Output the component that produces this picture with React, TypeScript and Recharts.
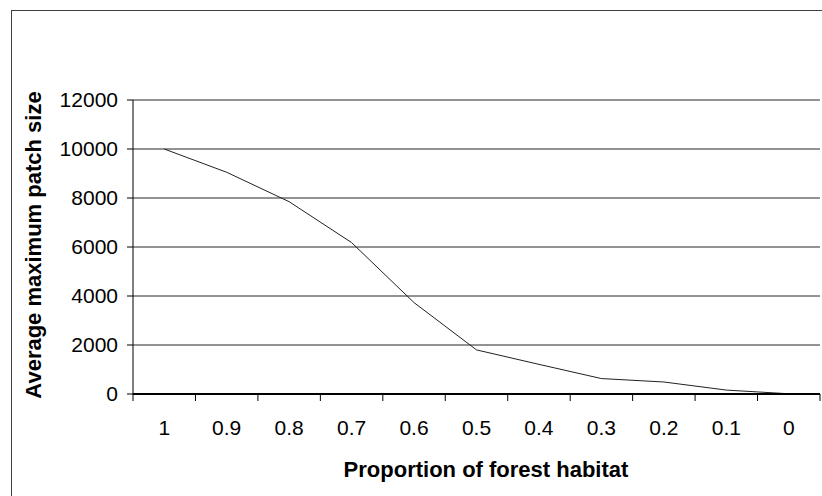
import { LineChart, Line, XAxis, YAxis, CartesianGrid } from "recharts";

const categories = ["1", "0.9", "0.8", "0.7", "0.6", "0.5", "0.4", "0.3", "0.2", "0.1", "0"];
const patchSize = [10000, 9050, 7850, 6180, 3730, 1800, 1210, 630, 490, 160, 10];
const yTicks = [0, 2000, 4000, 6000, 8000, 10000, 12000];

const FONT = "'Liberation Sans', Arial, sans-serif";
const PLOT_LEFT = 133;
const PLOT_RIGHT = 820;
const STEP = (PLOT_RIGHT - PLOT_LEFT) / categories.length;

const data = categories.map((p, i) => ({ p, size: patchSize[i] }));

// Excel style category axis: label in the middle, tick marks on the boundaries
function CategoryTick(props: any) {
  const { x, y, payload, index } = props;
  const last = index === categories.length - 1;
  return (
    <g>
      <line x1={x - STEP / 2} x2={x - STEP / 2} y1={y} y2={y + 7} stroke="#000" />
      {last && <line x1={x + STEP / 2} x2={x + STEP / 2} y1={y} y2={y + 7} stroke="#000" />}
      <text x={x} y={y + 41} textAnchor="middle" fontSize={21} fontFamily={FONT} fill="#000">
        {payload.value}
      </text>
    </g>
  );
}

export default function App() {
  return (
    <div style={{ position: "absolute", left: 0, top: 0, width: 822, height: 496, overflow: "hidden", background: "#fff" }}>
      <div
        style={{
          position: "absolute",
          left: 11,
          top: 10,
          width: 900,
          height: 600,
          border: "1px solid #404040",
        }}
      />
      <div style={{ position: "absolute", left: 0, top: 0 }}>
        <LineChart width={822} height={496} data={data} margin={{ top: 100, right: 2, bottom: 0, left: 0 }}>
          <CartesianGrid vertical={false} stroke="#000" strokeOpacity={0.85} />
          <XAxis
            dataKey="p"
            scale="band"
            height={102}
            tickSize={0}
            tickMargin={0}
            tickLine={false}
            interval={0}
            axisLine={{ stroke: "#000", strokeWidth: 2 }}
            tick={<CategoryTick />}
            label={{
              content: () => (
                <text x={486} y={477} textAnchor="middle" fontSize={22} fontWeight="bold" fontFamily={FONT} fill="#000">
                  Proportion of forest habitat
                </text>
              ),
            }}
          />
          <YAxis
            width={PLOT_LEFT}
            domain={[0, 12000]}
            ticks={yTicks}
            interval={0}
            tickSize={6}
            tickMargin={9}
            axisLine={{ stroke: "#000" }}
            tickLine={{ stroke: "#000" }}
            tick={{ fontSize: 21, fontFamily: FONT, fill: "#000" }}
            label={{
              content: () => (
                <text
                  x={41}
                  y={245}
                  transform="rotate(-90 41 245)"
                  textAnchor="middle"
                  fontSize={22}
                  fontWeight="bold"
                  fontFamily={FONT}
                  fill="#000"
                >
                  Average maximum patch size
                </text>
              ),
            }}
          />
          <YAxis yAxisId="frame" orientation="right" width={0} tick={false} tickLine={false} axisLine={{ stroke: "#808080", strokeWidth: 2 }} />
          <Line
            type="linear"
            dataKey="size"
            stroke="#222"
            strokeWidth={1}
            dot={false}
            isAnimationActive={false}
          />
        </LineChart>
      </div>
    </div>
  );
}
